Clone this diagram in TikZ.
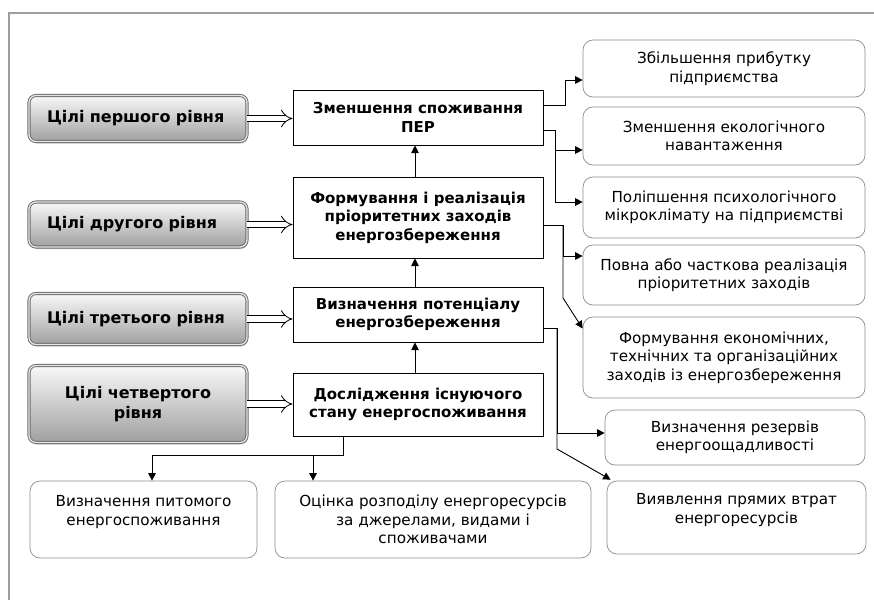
\documentclass[tikz,border=0pt]{standalone}
\usepackage{fontspec}
\setmainfont{DejaVu Sans}
\usetikzlibrary{arrows.meta,shadows}

\definecolor{FrameGray}{rgb}{0.62,0.62,0.62}
\definecolor{EdgeGray}{rgb}{0.42,0.42,0.42}
\definecolor{SoftGray}{rgb}{0.55,0.55,0.55}

\tikzset{
  level/.style={rounded corners=7pt, draw=EdgeGray, line width=0.9pt,
    double=white!80!gray, double distance=1.3pt,
    top color=white!95!gray, bottom color=gray!75,
    drop shadow={shadow xshift=1pt, shadow yshift=-2pt, opacity=0.35},
    minimum width=218pt, text width=182pt, align=left, inner sep=0pt,
    font=\bfseries\fontsize{16}{20}\selectfont},
  task/.style={draw, line width=1pt, minimum width=250pt, align=center,
    inner sep=0pt, font=\bfseries\fontsize{15}{18.5}\selectfont},
  result/.style={draw=SoftGray, line width=0.7pt, rounded corners=10pt,
    align=center, inner sep=0pt, font=\fontsize{15.2}{18.5}\selectfont},
  link/.style={line width=0.9pt, -{Triangle[length=7.5pt,width=7.5pt]}},
  goal/.style={double, double distance=5.5pt, line width=0.8pt, -{Implies}}
}

\begin{document}
\begin{tikzpicture}[x=1pt,y=-1pt]
\useasboundingbox (0,0) rectangle (874,600);
\draw[FrameGray, line width=1.6pt] (9,600) |- (874,13);

% goal levels
\node[level, minimum height=46pt] (L1) at (138,118.5) {Цілі першого рівня};
\node[level, minimum height=45pt] (L2) at (138,224.5) {Цілі другого рівня};
\node[level, minimum height=51pt] (L3) at (138,319) {Цілі третього рівня};
\node[level, minimum height=77pt, align=center] (L4) at (138,404) {Цілі четвертого\\рівня};

% main chain
\node[task, minimum height=55pt] (M1) at (418,117.5) {Зменшення споживання\\ПЕР};
\node[task, minimum height=81pt] (M2) at (418,217.5) {Формування і реалізація\\пріоритетних заходів\\енергозбереження};
\node[task, minimum height=55pt] (M3) at (418,314.5) {Визначення потенціалу\\енергозбереження};
\node[task, minimum height=63pt] (M4) at (418,404.5) {Дослідження існуючого\\стану енергоспоживання};

% results on the right
\node[result, minimum width=282pt, minimum height=57pt] (R1) at (724,68.5) {Збільшення прибутку\\підприємства};
\node[result, minimum width=282pt, minimum height=58pt] (R2) at (724,136) {Зменшення екологічного\\навантаження};
\node[result, minimum width=282pt, minimum height=61pt] (R3) at (724,207.5) {Поліпшення психологічного\\мікроклімату на підприємстві};
\node[result, minimum width=282pt, minimum height=60pt] (R4) at (724,275) {Повна або часткова реалізація\\пріоритетних заходів};
\node[result, minimum width=282pt, minimum height=81pt] (R5) at (724,357.5) {Формування економічних,\\технічних та організаційних\\заходів із енергозбереження};
\node[result, minimum width=260pt, minimum height=55pt] (R6) at (735,437.5) {Визначення резервів\\енергоощадливості};
\node[result, minimum width=259pt, minimum height=73pt] (R7) at (736.5,517.5) {Виявлення прямих втрат\\енергоресурсів\\\vphantom{x}};

% results below
\node[result, minimum width=227pt, minimum height=77pt] (B1) at (143.5,519.5) {Визначення питомого\\енергоспоживання\\\vphantom{x}};
\node[result, minimum width=316pt, minimum height=77pt] (B2) at (433,519.5) {Оцінка розподілу енергоресурсів\\за джерелами, видами і\\споживачами};

% goals to tasks
\foreach \i in {1,...,4}
  \draw[goal] (L\i.east) -- (L\i.east -| M\i.west);

% chain upwards
\draw[link] ([xshift=-3pt]M4.north) -- ([xshift=-3pt]M3.south);
\draw[link] ([xshift=-3pt]M3.north) -- ([xshift=-3pt]M2.south);
\draw[link] ([xshift=-3pt]M2.north) -- ([xshift=-3pt]M1.south);

% branches of M1
\draw[link] ([yshift=12.5pt]M1.east) -- ++(22,0) |- ([yshift=-11.5pt]R1.west);
\coordinate (s1) at (555,130);
\draw[link] ([yshift=-12.5pt]M1.east) -- (s1) |- ([yshift=-14pt]R2.west);
\draw[link] (s1) |- ([yshift=5.5pt]R3.west);

% branches of M2
\coordinate (s2) at (563,225);
\coordinate (k2) at (563,298);
\draw[link] ([yshift=-7.5pt]M2.east) -- (s2) |- ([yshift=19pt]R4.west);
\draw[link] (s2) -- (k2) -- ([yshift=29pt]R5.west);

% branches of M3
\coordinate (s3) at (557,328);
\coordinate (k3) at (557,449);
\draw[link] ([yshift=-13.5pt]M3.east) -- (s3) |- ([yshift=4.5pt]R6.west);
\draw[link] (s3) -- (k3) -- ([xshift=4pt,yshift=1pt]R7.north west);

% branches of M4
\coordinate (fork) at (343,455);
\coordinate (fork2) at (313,455);
\draw[link] (M4.south -| fork) -- (fork) -| ([xshift=8.5pt]B1.north);
\draw[link] (fork2) -- (fork2 |- B2.north);
\end{tikzpicture}
\end{document}
